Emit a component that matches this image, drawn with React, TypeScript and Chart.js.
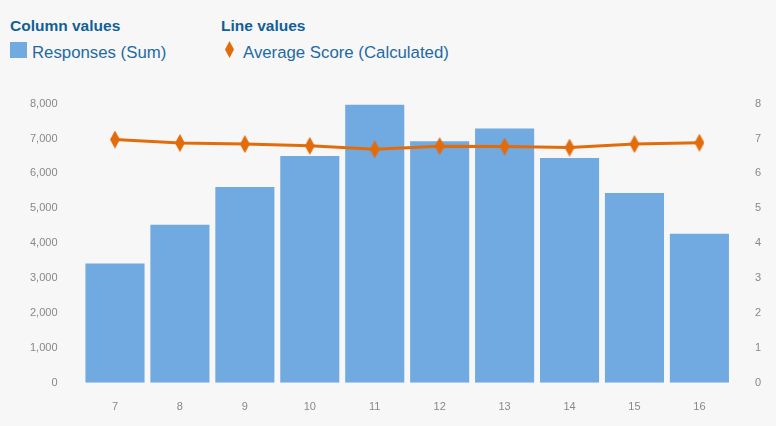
import React, { useEffect, useRef } from "react";
import { Chart, registerables } from "chart.js";

Chart.register(...registerables);

const categories = ["7", "8", "9", "10", "11", "12", "13", "14", "15", "16"];
const responses = [3420, 4530, 5610, 6500, 7970, 6920, 7290, 6440, 5440, 4270];
const avgScore = [6.97, 6.87, 6.84, 6.79, 6.69, 6.78, 6.77, 6.74, 6.84, 6.88];

const BAR_COLOR = "#71aae0";
const LINE_COLOR = "#e36c0a";
const TEXT_BLUE = "#1e6aa3";
const TITLE_BLUE = "#115f96";
const FONT = "'Liberation Sans', Arial, sans-serif";

function makeDiamond(w: number, h: number, color: string) {
  const c = document.createElement("canvas");
  c.width = w;
  c.height = h;
  const ctx = c.getContext("2d")!;
  ctx.fillStyle = color;
  ctx.beginPath();
  ctx.moveTo(w / 2, 0);
  ctx.lineTo(w, h / 2);
  ctx.lineTo(w / 2, h);
  ctx.lineTo(0, h / 2);
  ctx.closePath();
  ctx.fill();
  return c;
}

export default function App() {
  const ref = useRef<HTMLCanvasElement>(null);
  useEffect(() => {
    document.body.style.margin = "0";
    const diamond = makeDiamond(10, 18, LINE_COLOR);
    const chart = new Chart(ref.current!, {
      type: "bar",
      data: {
        labels: categories,
        datasets: [
          {
            type: "line",
            label: "Average Score (Calculated)",
            data: avgScore,
            yAxisID: "y1",
            borderColor: LINE_COLOR,
            backgroundColor: LINE_COLOR,
            borderWidth: 3,
            pointStyle: diamond as any,
            pointRadius: 6,
            order: 0,
          } as any,
          {
            type: "bar",
            label: "Responses (Sum)",
            data: responses,
            yAxisID: "y",
            backgroundColor: BAR_COLOR,
            barPercentage: 0.91,
            categoryPercentage: 1,
            order: 1,
          },
        ],
      },
      options: {
        animation: false,
        responsive: false,
        maintainAspectRatio: false,
        layout: { padding: { left: 13, right: 0, top: 2, bottom: 0 } },
        plugins: { legend: { display: false }, tooltip: { enabled: false } },
        scales: {
          x: {
            grid: { display: false },
            border: { display: false },
            ticks: { color: "#888", font: { family: FONT, size: 11 }, padding: 10 },
          },
          y: {
            position: "left",
            min: 0,
            max: 8000,
            grid: { display: false },
            border: { display: false },
            ticks: {
              stepSize: 1000,
              color: "#888",
              font: { family: FONT, size: 11 },
              padding: 17,
              callback: (v: any) => Number(v).toLocaleString("en-US"),
            },
          },
          y1: {
            position: "right",
            min: 0,
            max: 8,
            grid: { display: false },
            border: { display: false },
            ticks: { stepSize: 1, color: "#888", font: { family: FONT, size: 11 }, padding: 15 },
          },
        },
      },
    });
    return () => chart.destroy();
  }, []);

  return (
    <div
      style={{
        position: "relative",
        width: 776,
        height: 426,
        background: "#f7f7f7",
        fontFamily: FONT,
        overflow: "hidden",
      }}
    >
      <div style={{ position: "absolute", left: 10, top: 17, fontWeight: "bold", fontSize: 15.5, color: TITLE_BLUE }}>
        Column values
      </div>
      <div style={{ position: "absolute", left: 221, top: 17, fontWeight: "bold", fontSize: 15.5, color: TITLE_BLUE }}>
        Line values
      </div>
      <div style={{ position: "absolute", left: 10, top: 42, width: 17, height: 16, background: BAR_COLOR }} />
      <div style={{ position: "absolute", left: 32, top: 43, fontSize: 16.8, color: TEXT_BLUE }}>Responses (Sum)</div>
      <svg style={{ position: "absolute", left: 225, top: 41 }} width={9} height={17}>
        <polygon points="4.5,0 9,8.5 4.5,17 0,8.5" fill={LINE_COLOR} />
      </svg>
      <div style={{ position: "absolute", left: 243, top: 43, fontSize: 16.8, color: TEXT_BLUE }}>
        Average Score (Calculated)
      </div>
      <canvas ref={ref} width={776} height={344} style={{ position: "absolute", left: 0, top: 80 }} />
    </div>
  );
}
